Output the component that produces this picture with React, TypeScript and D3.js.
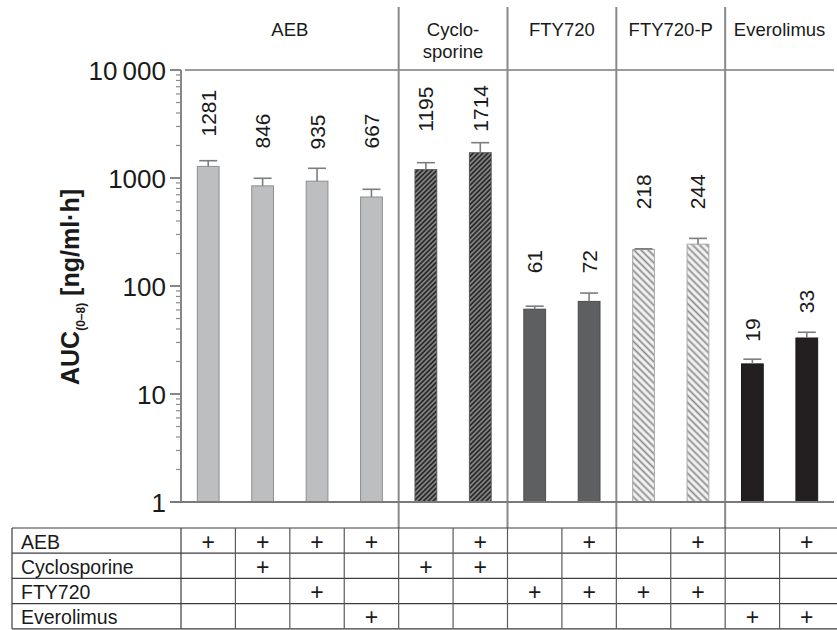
import React from "react";
import * as d3 from "d3";

const groupLabels: string[][] = [["AEB"], ["Cyclo-", "sporine"], ["FTY720"], ["FTY720-P"], ["Everolimus"]];
const groupSizes = [4, 2, 2, 2, 2];
const barGroup = [0, 0, 0, 0, 1, 1, 2, 2, 3, 3, 4, 4];
const values = [1281, 846, 935, 667, 1195, 1714, 61, 72, 218, 244, 19, 33];
const errors = [165, 148, 295, 119, 191, 409, 4, 14, 3, 32, 2, 4.3];
const valueLabels = ["1281", "846", "935", "667", "1195", "1714", "61", "72", "218", "244", "19", "33"];
// level (in axis units) where each rotated value label starts
const labelAt = [2423, 1875, 1836, 1875, 2684, 2684, 131, 131, 513, 513, 30.5, 55.9];
const yTicks = [1, 10, 100, 1000, 10000];
const yTickLabels = ["1", "10", "100", "1000", "10\u2009000"];
const tableRows = ["AEB", "Cyclosporine", "FTY720", "Everolimus"];
const tableMarks = [
  [1, 1, 1, 1, 0, 1, 0, 1, 0, 1, 0, 1],
  [0, 1, 0, 0, 1, 1, 0, 0, 0, 0, 0, 0],
  [0, 0, 1, 0, 0, 0, 1, 1, 1, 1, 0, 0],
  [0, 0, 0, 1, 0, 0, 0, 0, 0, 0, 1, 1],
];

const W = 837, H = 630;
const FONT = "'Liberation Sans', Arial, Helvetica, sans-serif";
const plotLeft = 181, plotRight = 834, plotTop = 70, plotBottom = 502;
const tableTop = 528, rowH = 25.2, tableLeft = 12;

const groupFill = ["#bdbec0", "url(#hatchDark)", "#5e5f61", "url(#hatchLight)", "#231f20"];
const groupStroke = ["#8e8f91", "#555", "#4a4a4c", "#a8a8a8", "#1a1a1a"];

export default function App() {
  const idx = values.map((_, i) => i);
  const x = d3.scaleBand<number>().domain(idx).range([plotLeft, plotRight]).paddingInner(0.6).paddingOuter(0.3);
  const step = x.step();
  const y = d3.scaleLog().domain([1, 10000]).range([plotBottom, plotTop]);
  const colEdge = (k: number) => plotLeft + step * k;

  const bounds: number[] = [0];
  groupSizes.forEach((s) => bounds.push(bounds[bounds.length - 1] + s));

  const minorTicks: number[] = [];
  for (let e = 0; e < 4; e++) for (let m = 2; m <= 9; m++) minorTicks.push(m * Math.pow(10, e));

  return (
    <svg width={W} height={H} style={{ position: "absolute", left: 0, top: 0, background: "#fff" }} fontFamily={FONT}>
      <defs>
        <pattern id="hatchDark" patternUnits="userSpaceOnUse" width={3.4} height={3.4} patternTransform="rotate(45)">
          <rect width={3.4} height={3.4} fill="#8a8a8a" />
          <line x1={1} y1={0} x2={1} y2={3.4} stroke="#222" strokeWidth={1.7} />
        </pattern>
        <pattern id="hatchLight" patternUnits="userSpaceOnUse" width={5} height={5} patternTransform="rotate(-45)">
          <rect width={5} height={5} fill="#f4f4f4" />
          <line x1={1.5} y1={0} x2={1.5} y2={5} stroke="#8c8c8c" strokeWidth={1.8} />
        </pattern>
      </defs>

      {groupLabels.map((lines, g) => {
        const cx = (colEdge(bounds[g]) + colEdge(bounds[g + 1])) / 2;
        return (
          <text key={g} x={cx} y={36} textAnchor="middle" fontSize={18.5} fill="#1a1a1a">
            {lines.map((l, j) => (
              <tspan key={j} x={cx} dy={j === 0 ? 0 : 22}>{l}</tspan>
            ))}
          </text>
        );
      })}

      <line x1={185} x2={plotRight} y1={plotTop} y2={plotTop} stroke="#7a7a7a" strokeWidth={1.6} />

      {bounds.slice(1, -1).map((b) => (
        <line key={b} x1={colEdge(b)} x2={colEdge(b)} y1={7} y2={tableTop} stroke="#8a8a8a" strokeWidth={2} />
      ))}

      {values.map((v, i) => {
        const g = barGroup[i];
        return (
          <rect key={i} x={x(i)} y={y(v)} width={x.bandwidth()} height={plotBottom - y(v)}
            fill={groupFill[g]} stroke={groupStroke[g]} strokeWidth={1} />
        );
      })}

      {values.map((v, i) => {
        const cx = (x(i) as number) + x.bandwidth() / 2;
        const top = y(v + errors[i]);
        return (
          <g key={i} stroke="#7d7d7d" strokeWidth={1.6}>
            <line x1={cx} x2={cx} y1={y(v)} y2={top} />
            <line x1={cx - 9} x2={cx + 9} y1={top} y2={top} />
          </g>
        );
      })}

      {values.map((v, i) => {
        const cx = (x(i) as number) + x.bandwidth() / 2;
        const ly = y(labelAt[i]);
        return (
          <text key={i} transform={`translate(${cx},${ly}) rotate(-90)`} dominantBaseline="central"
            fontSize={21} fill="#1a1a1a">{valueLabels[i]}</text>
        );
      })}

      <line x1={plotLeft} x2={plotLeft} y1={plotTop} y2={plotBottom} stroke="#7a7a7a" strokeWidth={1.8} />
      <line x1={170} x2={plotRight} y1={plotBottom} y2={plotBottom} stroke="#7a7a7a" strokeWidth={1.8} />
      {yTicks.map((t) => (
        <line key={t} x1={170} x2={plotLeft} y1={y(t)} y2={y(t)} stroke="#7a7a7a" strokeWidth={1.8} />
      ))}
      {minorTicks.map((t) => (
        <line key={t} x1={176} x2={plotLeft} y1={y(t)} y2={y(t)} stroke="#8a8a8a" strokeWidth={1.2} />
      ))}
      {yTicks.map((t, i) => (
        <text key={t} x={166} y={y(t) + 1} textAnchor="end" dominantBaseline="central" fontSize={26} fill="#1a1a1a">
          {yTickLabels[i]}
        </text>
      ))}

      <text transform={`translate(78.5,${(plotTop + plotBottom) / 2 + 1}) rotate(-90)`} textAnchor="middle"
        fontSize={25} fontWeight="bold" fill="#1a1a1a">
        AUC<tspan fontSize={12} dy={6}>(0–8)</tspan><tspan dy={-6}> [ng/ml·h]</tspan>
      </text>

      <g stroke="#3c3c3c" strokeWidth={1.2}>
        {tableRows.map((_, r) => (
          <line key={"h" + r} x1={tableLeft} x2={W} y1={tableTop + r * rowH} y2={tableTop + r * rowH} />
        ))}
        <line x1={tableLeft} x2={W} y1={tableTop + tableRows.length * rowH} y2={tableTop + tableRows.length * rowH} />
        <line x1={tableLeft} x2={tableLeft} y1={tableTop} y2={tableTop + tableRows.length * rowH} />
        {d3.range(0, values.length).map((k) => (
          <line key={"v" + k} x1={colEdge(k)} x2={colEdge(k)} y1={tableTop} y2={tableTop + tableRows.length * rowH}
            stroke={k === 0 ? "#3c3c3c" : "#5a5a5a"} />
        ))}
      </g>
      {tableRows.map((name, r) => (
        <g key={name}>
          <text x={21} y={tableTop + r * rowH + rowH / 2 + 1} dominantBaseline="central" fontSize={19.5} fill="#1a1a1a">{name}</text>
          {tableMarks[r].map((m, c) => m ? (
            <text key={c} x={(x(c) as number) + x.bandwidth() / 2} y={tableTop + r * rowH + rowH / 2 + 1}
              textAnchor="middle" dominantBaseline="central" fontSize={23} fill="#1a1a1a">+</text>
          ) : null)}
        </g>
      ))}
    </svg>
  );
}
